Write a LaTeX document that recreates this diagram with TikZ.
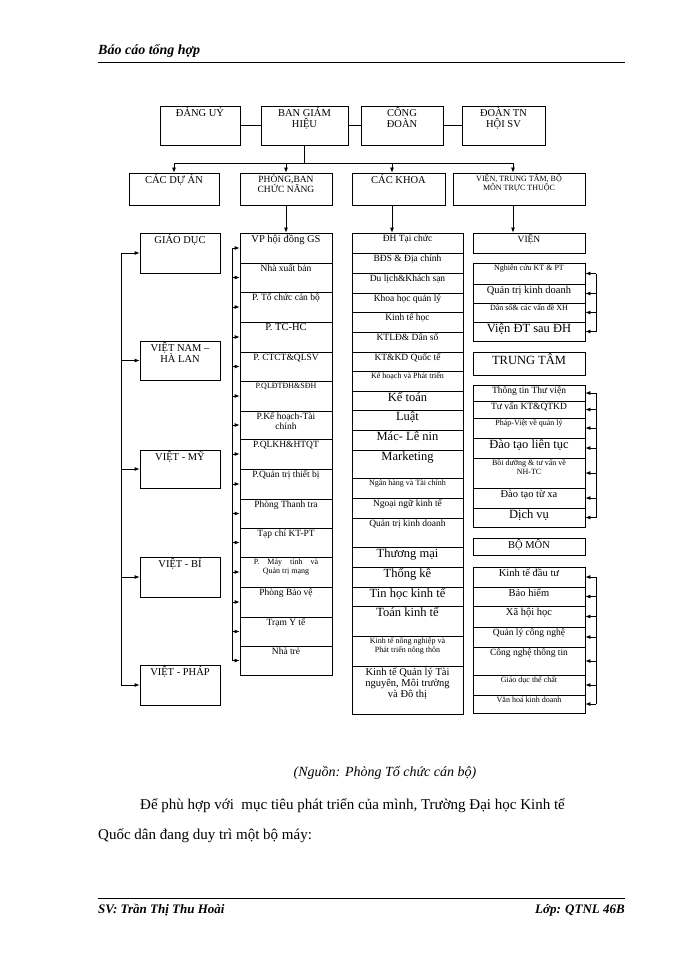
\documentclass[tikz,border=0pt]{standalone}
\usepackage{fontspec}
\setmainfont{Liberation Serif}
\usetikzlibrary{arrows.meta}
\newcommand\bx[7]{%
 \pgfmathsetmacro\bw{#5-#3}\pgfmathsetmacro\bh{#6-#4}%
 \node[box,minimum width=\bw pt,minimum height=\bh pt] (#2) at ({(#3+#5)/2},{(#4+#6)/2}) {};%
 \node[txt,#1] at (#2.north) {#7};}
\begin{document}
\begin{tikzpicture}[x=1pt,y=-1pt,
 box/.style={draw,line width=0.8pt,inner sep=0pt},
 txt/.style={anchor=north,align=center,inner sep=2pt,font=\fontsize{10.5}{11}\selectfont},
 big/.style={font=\fontsize{12.5}{13}\selectfont},
 sm/.style={font=\fontsize{9.5}{10}\selectfont},
 tiny/.style={font=\fontsize{8}{9}\selectfont},
 ln/.style={line width=0.8pt},
 arr/.style={line width=0.8pt,-{Latex[length=5pt,width=4pt]}}]
\useasboundingbox (0,0) rectangle (700,960);
% header/footer
\node[anchor=south west,inner sep=0pt,font=\fontsize{14}{16}\selectfont\bfseries\itshape] (hd) at (98,58) {Báo cáo tổng hợp};
\draw[ln] (98,62) -- (625,62);
\draw[ln] (98,898) -- (625,898);
\node[anchor=south west,inner sep=0pt,font=\fontsize{13}{15}\selectfont\bfseries\itshape] (sv) at (98,916) {SV: Trần Thị Thu Hoài};
\node[anchor=south east,inner sep=0pt,font=\fontsize{13}{15}\selectfont\bfseries\itshape] (lop) at (625,916) {Lớp: QTNL 46B};
% top row
\bx{}{dang}{160}{106}{240}{145}{ĐẢNG UỶ}
\bx{}{bgh}{261}{106}{348}{145}{BAN GIÁM\\HIỆU}
\bx{}{cd}{361}{106}{443}{145}{CÔNG\\ĐOÀN}
\bx{}{dtn}{462}{106}{545}{145}{ĐOÀN TN\\HỘI SV}
\draw[ln] (dang.east) -- (bgh.west);
\draw[ln] (bgh.east) -- (cd.west);
\draw[ln] (cd.east) -- (dtn.west);
% row 2
\bx{}{duan}{129}{173}{219}{205}{CÁC DỰ ÁN}
\bx{sm}{pb}{240}{173}{332}{205}{PHÒNG,BAN\\CHỨC NĂNG}
\bx{}{khoa}{352}{173}{445}{205}{CÁC KHOA}
\bx{tiny}{vtt}{453}{173}{585}{205}{VIỆN, TRUNG TÂM, BỘ\\MÔN TRỰC THUỘC}
\coordinate (busT) at (0,163);
\coordinate (kx) at (392,0);
\coordinate (vx) at (513,0);
\draw[ln] (bgh.south) -- (bgh.south |- busT);
\draw[ln] (duan.north |- busT) -- (vx |- busT);
\draw[arr] (duan.north |- busT) -- (duan.north);
\draw[arr] (pb.north |- busT) -- (pb.north);
\draw[arr] (kx |- busT) -- (kx |- khoa.north);
\draw[arr] (vx |- busT) -- (vx |- vtt.north);
% column 1
\bx{}{gd}{140}{233}{220}{273}{GIÁO DỤC}
\bx{}{vnhl}{140}{341}{220}{380}{VIỆT NAM –\\HÀ LAN}
\bx{}{vm}{140}{450}{220}{488}{VIỆT - MỸ}
\bx{}{vb}{140}{557}{220}{597}{VIỆT - BỈ}
\bx{}{vp}{140}{665}{220}{705}{VIỆT - PHÁP}
\coordinate (b1) at (121,0);
\draw[ln] (b1 |- gd.west) -- (b1 |- vp.west);
\foreach \n in {gd,vnhl,vm,vb,vp}{\draw[arr] (b1 |- \n.west) -- (\n.west);}
% column 2
\bx{}{c1}{240}{233}{332}{263}{VP  hội đồng GS}
\bx{sm}{c2}{240}{263}{332}{292}{Nhà xuất bản}
\bx{sm}{c3}{240}{292}{332}{322}{P. Tổ chức cán bộ}
\bx{}{c4}{240}{322}{332}{352}{P. TC-HC}
\bx{sm}{c5}{240}{352}{332}{381}{P. CTCT\&QLSV}
\bx{tiny}{c6}{240}{381}{332}{411}{P.QLĐTĐH\&SĐH}
\bx{sm}{c7}{240}{411}{332}{439}{P.Kế hoạch-Tài\\chính}
\bx{sm}{c8}{240}{439}{332}{469}{P.QLKH\&HTQT}
\bx{sm}{c9}{240}{469}{332}{499}{P.Quản trị thiết bị}
\bx{sm}{c10}{240}{499}{332}{528}{Phòng Thanh tra}
\bx{sm}{c11}{240}{528}{332}{557}{Tạp chí KT-PT}
\bx{tiny}{c12}{240}{557}{332}{587}{P.\ \ \ \ Máy\ \ \ \ tính\ \ \ \ và\\Quản trị mạng}
\bx{sm}{c13}{240}{587}{332}{617}{Phòng Bảo vệ}
\bx{sm}{c14}{240}{617}{332}{646}{Trạm Y tế}
\bx{sm}{c15}{240}{646}{332}{675}{Nhà trẻ}
\draw[arr] (pb.south) -- (c1.north);
\coordinate (b2) at (232,0);
\draw[ln] (b2 |- c1.west) -- (b2 |- c15.west);
\foreach \n in {c1,c2,c3,c4,c5,c6,c7,c8,c9,c10,c11,c12,c13,c14,c15}{\draw[arr] (b2 |- \n.west) -- (\n.west);}
% column 3
\bx{sm}{k1}{352}{233}{463}{253}{ĐH Tại chức}
\bx{sm}{k2}{352}{253}{463}{273}{BĐS \& Địa chính}
\bx{sm}{k3}{352}{273}{463}{293}{Du lịch\&Khách sạn}
\bx{sm}{k4}{352}{293}{463}{312}{Khoa học quản lý}
\bx{sm}{k5}{352}{312}{463}{332}{Kinh tế học}
\bx{sm}{k6}{352}{332}{463}{352}{KTLĐ\& Dân số}
\bx{sm}{k7}{352}{352}{463}{371}{KT\&KD Quốc tế}
\bx{tiny}{k8}{352}{371}{463}{391}{Kế hoạch và Phát triển}
\bx{big}{k9}{352}{391}{463}{410}{Kế toán}
\bx{big}{k10}{352}{410}{463}{430}{Luật}
\bx{big}{k11}{352}{430}{463}{450}{Mác- Lê nin}
\bx{big}{k12}{352}{450}{463}{478}{Marketing}
\bx{tiny}{k13}{352}{478}{463}{498}{Ngân hàng và Tài chính}
\bx{sm}{k14}{352}{498}{463}{518}{Ngoại ngữ kinh tế}
\bx{sm}{k15}{352}{518}{463}{547}{Quản trị kinh doanh}
\bx{big}{k16}{352}{547}{463}{567}{Thương mại}
\bx{big}{k17}{352}{567}{463}{587}{Thống kê}
\bx{big}{k18}{352}{587}{463}{606}{Tin học kinh tế}
\bx{big}{k19}{352}{606}{463}{636}{Toán kinh tế}
\bx{tiny}{k20}{352}{636}{463}{666}{Kinh tế nông nghiệp và\\Phát triển nông thôn}
\bx{}{k21}{352}{666}{463}{714}{Kinh tế Quản lý Tài\\nguyên, Môi trường\\và Đô thị}
\draw[arr] (kx |- khoa.south) -- (kx |- k1.north);
% column 4
\bx{sm}{vien}{473}{233}{585}{253}{VIỆN}
\bx{tiny}{v1}{473}{263}{585}{284}{Nghiên cứu KT \& PT}
\bx{}{v2}{473}{284}{585}{303}{Quản trị kinh doanh}
\bx{tiny}{v3}{473}{303}{585}{322}{Dân số\& các vấn đề XH}
\bx{big}{v4}{473}{322}{585}{341}{Viện ĐT sau ĐH}
\bx{big}{tt}{473}{352}{585}{375}{TRUNG TÂM}
\bx{sm}{t1}{473}{385}{585}{401}{Thông tin Thư viện}
\bx{sm}{t2}{473}{401}{585}{418}{Tư vấn KT\&QTKD}
\bx{tiny}{t3}{473}{418}{585}{438}{Pháp-Việt về quản lý}
\bx{big}{t4}{473}{438}{585}{458}{Đào tạo liên tục}
\bx{tiny}{t5}{473}{458}{585}{488}{Bồi dưỡng \& tư vấn về\\NH-TC}
\bx{}{t6}{473}{488}{585}{508}{Đào tạo từ xa}
\bx{big}{t7}{473}{508}{585}{527}{Dịch vụ}
\bx{}{bm}{473}{538}{585}{555}{BỘ MÔN}
\bx{}{m1}{473}{567}{585}{587}{Kinh tế đầu tư}
\bx{}{m2}{473}{587}{585}{606}{Bảo hiểm}
\bx{}{m3}{473}{606}{585}{627}{Xã hội học}
\bx{sm}{m4}{473}{627}{585}{647}{Quản lý công nghệ}
\bx{sm}{m5}{473}{647}{585}{675}{Công nghệ thông tin}
\bx{tiny}{m6}{473}{675}{585}{695}{Giáo dục thể chất}
\bx{tiny}{m7}{473}{695}{585}{713}{Văn hoá kinh doanh}
\draw[arr] (vx |- vtt.south) -- (vx |- vien.north);
\coordinate (b4) at (596,0);
\draw[ln] (b4 |- v1.east) -- (b4 |- v4.east);
\foreach \n in {v1,v2,v3,v4}{\draw[arr] (b4 |- \n.east) -- (\n.east);}
\draw[ln] (b4 |- t1.east) -- (b4 |- t7.east);
\foreach \n in {t1,t2,t3,t4,t5,t6,t7}{\draw[arr] (b4 |- \n.east) -- (\n.east);}
\draw[ln] (b4 |- m1.east) -- (b4 |- m7.east);
\foreach \n in {m1,m2,m3,m4,m5,m6,m7}{\draw[arr] (b4 |- \n.east) -- (\n.east);}
% texts below
\node[font=\fontsize{14}{16}\selectfont\itshape] (src) at (385,773) {(Nguồn: Phòng Tổ chức cán bộ)};
\node[anchor=west,inner sep=0pt,font=\fontsize{15}{16}\selectfont] (p1) at (140,806) {Để phù hợp với\ \ mục tiêu phát triển của mình, Trường Đại học Kinh tế};
\node[anchor=west,inner sep=0pt,font=\fontsize{15}{16}\selectfont] (p2) at (98,836) {Quốc dân đang duy trì một bộ máy:};
\end{tikzpicture}
\end{document}
